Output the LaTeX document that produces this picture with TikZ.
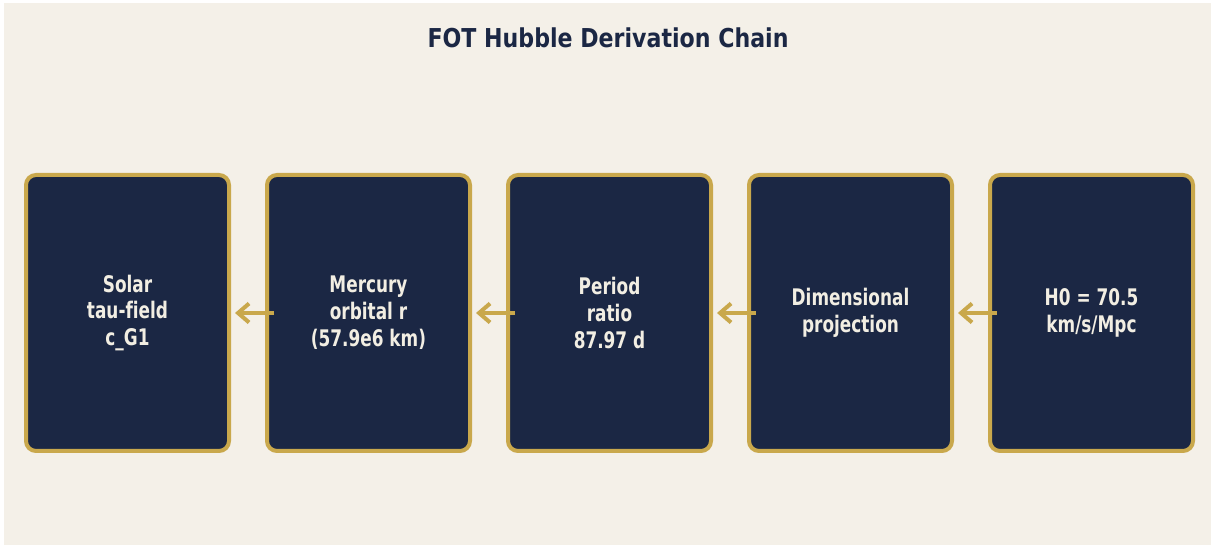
\documentclass[tikz,border=0pt]{standalone}
\usepackage{fontspec}
\setmainfont{DejaVu Sans}[FakeStretch=0.85, Ligatures=NoCommon]
\newfontfamily\stagefont{DejaVu Sans}[FakeStretch=0.74, Ligatures=NoCommon]
\usetikzlibrary{positioning, arrows.meta}
\definecolor{navy}{HTML}{1B2744}
\definecolor{gold}{HTML}{C9A84C}
\definecolor{paper}{HTML}{F4F0E8}
\definecolor{ink}{HTML}{F2EEE3}
\tikzset{>=latex}
\tikzset{stage/.style={draw=gold, fill=navy, line width=0.08cm, rounded corners=0.2cm,
  minimum width=4.06cm, minimum height=5.52cm, align=center, text=ink,
  font=\stagefont\bfseries\fontsize{13}{15.3}\selectfont},
  feed/.style={draw=gold, line width=0.08cm, -{Straight Barb[length=2.2mm,width=3.8mm]}}}
\begin{document}
\begin{tikzpicture}
\useasboundingbox (0,0) rectangle (24.24,10.92);
\fill[white] (0,0) rectangle (24.24,10.92);
\fill[paper] (0.08,0.02) rectangle (24.22,10.86);
\node[text=navy, font=\bfseries\fontsize{14.8}{17}\selectfont] (title) at (12.16,10.16) {FOT Hubble Derivation Chain};
\node[stage] (solar) at (2.55,4.66) {Solar\\tau-field\\c\_G1};
\node[stage, right=0.68cm of solar] (mercury) {Mercury\\orbital r\\(57.9e6 km)};
\node[stage, right=0.68cm of mercury] (period) {Period\\ratio\\87.97 d};
\node[stage, right=0.68cm of period] (dimproj) {Dimensional\\projection};
\node[stage, right=0.68cm of dimproj] (hubble) {H0 = 70.5\\km/s/Mpc};
% arrows run right to left
\draw[feed] ([xshift=0.18cm]mercury.west) -- ([xshift=0.08cm]solar.east);
\draw[feed] ([xshift=0.18cm]period.west) -- ([xshift=0.08cm]mercury.east);
\draw[feed] ([xshift=0.18cm]dimproj.west) -- ([xshift=0.08cm]period.east);
\draw[feed] ([xshift=0.18cm]hubble.west) -- ([xshift=0.08cm]dimproj.east);
\end{tikzpicture}
\end{document}
